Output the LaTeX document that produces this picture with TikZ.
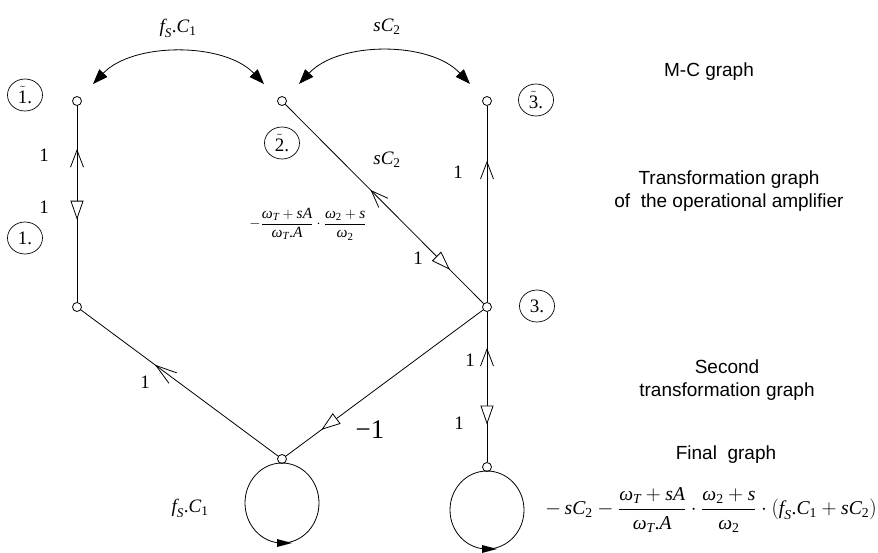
\documentclass[tikz,border=0pt]{standalone}
\usepackage{fontspec}
\usepackage{amsmath}
\setmainfont{Liberation Serif}
\setsansfont{Liberation Sans}
\usetikzlibrary{arrows.meta,decorations.markings,shapes.geometric}
\newcommand\I[1]{\text{\itshape #1}}
\newcommand\R[1]{\text{#1}}
\newcommand\tld[1]{$\tilde{\R{#1}}$}
\tikzset{
  barb/.tip={Straight Barb[length=17pt,width=13pt]},
  htri/.tip={Triangle[length=19pt,width=13pt,fill=white]},
  ftri/.tip={Triangle[length=15pt,width=11pt]},
  vtx/.style={circle,draw,fill=white,inner sep=0pt,minimum size=9pt},
  lbl/.style={font=\fontsize{19}{22}\selectfont,inner sep=0pt},
  captxt/.style={font=\sffamily\fontsize{19}{23}\selectfont,align=center,inner sep=0pt},
  circlbl/.style={ellipse,draw,line width=0.7pt,minimum width=35pt,minimum height=32pt,inner sep=0pt,font=\fontsize{19}{22}\selectfont},
}
\begin{document}
\begin{tikzpicture}[x=1pt,y=-1pt,line width=0.8pt]
\useasboundingbox (0,0) rectangle (878,552);
% vertices
\node[vtx] (n1t) at (77,101) {};
\node[vtx] (n2t) at (282,101) {};
\node[vtx] (n3t) at (487,101) {};
\node[vtx] (n1) at (77,307) {};
\node[vtx] (n3) at (487,307) {};
\node[vtx] (b1) at (282,459) {};
\node[vtx] (b2) at (487,467) {};
% circled labels
\node[circlbl] (c1t) at (25,95) {\tld{1}.};
\node[circlbl] (c2t) at (282,143) {\tld{2}.};
\node[circlbl] (c3t) at (536,100) {\tld{3}.};
\node[circlbl] (c1) at (25,238) {1.};
\node[circlbl] (c3) at (537,306) {3.};
% top arcs
\coordinate (a1) at (93,84);
\coordinate (a2) at (264,84);
\coordinate (a3) at (299,84);
\coordinate (a4) at (470,84);
\draw[{ftri}-{ftri}] (a1) .. controls (133,42) and (224,42) .. (a2);
\draw[{ftri}-{ftri}] (a3) .. controls (339,41) and (430,41) .. (a4);
\node[lbl] (lfc) at (178,28) {$\I{f}_{\I{S}}\R{.}\I{C}_{\R{1}}$};
\node[lbl] (lsc) at (387,27) {$\I{s}\I{C}_{\R{2}}$};
% edges
\draw[postaction={decorate},decoration={markings,
  mark=at position 0.22 with {\arrowreversed{barb}},
  mark=at position 0.58 with {\arrow{htri}}}] (n1t) -- (n1);
\node[lbl] at (44,155) {1};
\node[lbl] at (44,207) {1};
\draw[postaction={decorate},decoration={markings,
  mark=at position 0.43 with {\arrowreversed{barb}},
  mark=at position 0.83 with {\arrow{htri}}}] (n2t) -- (n3);
\node[lbl] at (387,160) {$\I{s}\I{C}_{\R{2}}$};
\node[lbl] at (418,258) {1};
\node[inner sep=0pt,font=\fontsize{15.5}{18}\selectfont] at (308,224)
  {$-\dfrac{\I{ω}_{\I{T}}+\I{s}\I{A}}{\I{ω}_{\I{T}}\R{.}\I{A}}\cdot\dfrac{\I{ω}_{\R{2}}+\I{s}}{\I{ω}_{\R{2}}}$};
\draw[postaction={decorate},decoration={markings,
  mark=at position 0.28 with {\arrowreversed{barb}}}] (n3t) -- (n3);
\node[lbl] at (458,172) {1};
\draw[postaction={decorate},decoration={markings,
  mark=at position 0.375 with {\arrowreversed{Straight Barb[length=21pt,width=13pt]}}}] (n1) -- (b1);
\node[lbl] at (145,382) {1};
\draw[postaction={decorate},decoration={markings,
  mark=at position 0.82 with {\arrow{htri}}}] (n3) -- (b1);
\node[inner sep=0pt,font=\fontsize{27}{30}\selectfont] at (370,430) {−1};
\draw[postaction={decorate},decoration={markings,
  mark=at position 0.24 with {\arrowreversed{barb}},
  mark=at position 0.75 with {\arrow{htri}}}] (n3) -- (b2);
\node[lbl] at (470,360) {1};
\node[lbl] at (459,423) {1};
% loops
\draw (282,503) ellipse [x radius=37,y radius=40];
\draw (487,510) ellipse [x radius=37,y radius=39];
\fill (277,539) -- (292,543) -- (277,547) -- cycle;
\fill (482,545) -- (497,549) -- (482,553) -- cycle;
\node[lbl] at (190,508) {$\I{f}_{\I{S}}\R{.}\I{C}_{\R{1}}$};
\node[inner sep=0pt,font=\fontsize{19.6}{23}\selectfont,anchor=east] at (877,510)
  {$-\,\I{s}\I{C}_{\R{2}}-\dfrac{\I{ω}_{\I{T}}+\I{s}\I{A}}{\I{ω}_{\I{T}}\R{.}\I{A}}\cdot\dfrac{\I{ω}_{\R{2}}+\I{s}}{\I{ω}_{\R{2}}}\cdot(\I{f}_{\I{S}}\R{.}\I{C}_{\R{1}}+\I{s}\I{C}_{\R{2}})$};
% captions
\node[captxt] at (709,72) {M-C graph};
\node[captxt] at (729,191) {Transformation graph\\of~~the operational amplifier};
\node[captxt] at (727,380) {Second\\transformation graph};
\node[captxt] at (726,455) {Final~~graph};
\end{tikzpicture}
\end{document}
